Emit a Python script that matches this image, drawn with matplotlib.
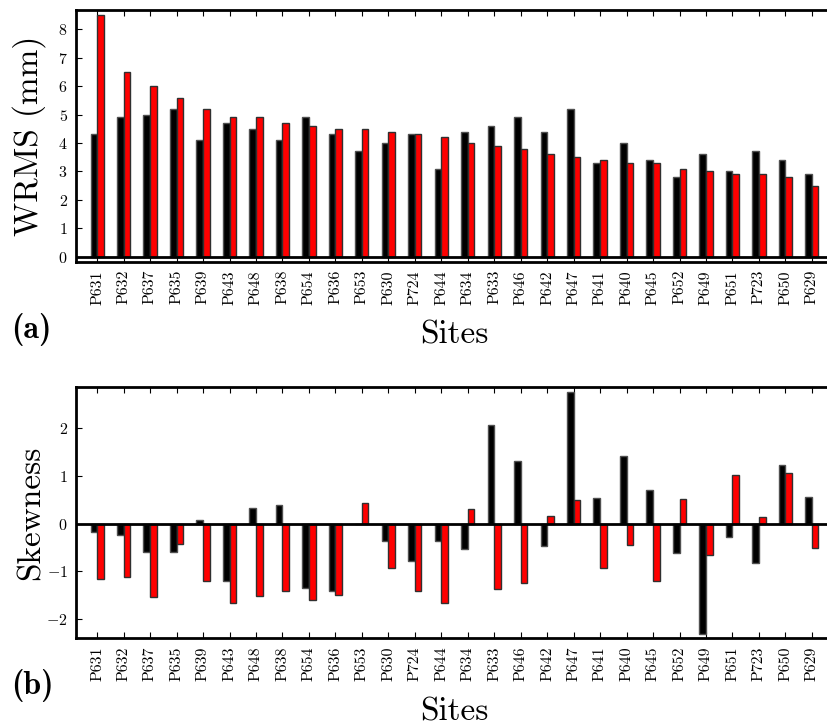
import numpy as np
import matplotlib
matplotlib.use("Agg")
import matplotlib.pyplot as plt


sites = ["P631", "P632", "P637", "P635", "P639", "P643", "P648", "P638",
         "P654", "P636", "P653", "P630", "P724", "P644", "P634", "P633",
         "P646", "P642", "P647", "P641", "P640", "P645", "P652", "P649",
         "P651", "P723", "P650", "P629"]

# WRMS (mm) for the two solutions
wrms_black = [4.3, 4.9, 5.0, 5.2, 4.1, 4.7, 4.5, 4.1, 4.9, 4.3, 3.7, 4.0, 4.3, 3.1,
              4.4, 4.6, 4.9, 4.4, 5.2, 3.3, 4.0, 3.4, 2.8, 3.6, 3.0, 3.7, 3.4, 2.9]
wrms_red = [8.5, 6.5, 6.0, 5.6, 5.2, 4.9, 4.9, 4.7, 4.6, 4.5, 4.5, 4.4, 4.3, 4.2,
            4.0, 3.9, 3.8, 3.6, 3.5, 3.4, 3.3, 3.3, 3.1, 3.0, 2.9, 2.9, 2.8, 2.5]

# Skewness for the two solutions
skew_black = [-0.18, -0.23, -0.59, -0.60, 0.08, -1.20, 0.33, 0.39, -1.34, -1.41,
              0.0, -0.36, -0.79, -0.36, -0.54, 2.06, 1.32, -0.47, 2.76, 0.54,
              1.42, 0.70, -0.61, -2.31, -0.29, -0.83, 1.22, 0.55]
skew_red = [-1.16, -1.11, -1.53, -0.43, -1.21, -1.66, -1.52, -1.41, -1.59, -1.50,
            0.43, -0.92, -1.41, -1.67, 0.31, -1.37, -1.25, 0.16, 0.49, -0.93,
            -0.44, -1.21, 0.52, -0.66, 1.01, 0.13, 1.06, -0.52]

plt.rcParams["font.family"] = "serif"
plt.rcParams["font.serif"] = ["cmr10", "DejaVu Serif"]
plt.rcParams["mathtext.fontset"] = "cm"
plt.rcParams["axes.formatter.use_mathtext"] = True
plt.rcParams["axes.unicode_minus"] = True


def draw_panel(ax, black_vals, red_vals, ylabel, ylim, yticks):
    x = np.arange(len(sites))
    w = 0.25
    ax.bar(x - w, black_vals, w, align="edge", color="black",
           edgecolor="#505050", linewidth=1.0, zorder=2)
    ax.bar(x, red_vals, w, align="edge", color="red",
           edgecolor="#303030", linewidth=1.0, zorder=2)
    ax.axhline(0, color="black", linewidth=2.0, zorder=3)

    ax.set_xlim(-0.8, 27.8)
    ax.set_ylim(*ylim)
    ax.set_yticks(yticks)
    ax.set_xticks(x)
    ax.set_xticklabels(sites, rotation=90, fontsize=11.5)
    ax.tick_params(axis="both", direction="in", length=4, width=0.8,
                   top=True, right=True, labelsize=11.5, pad=6)
    for spine in ax.spines.values():
        spine.set_linewidth(2.0)

    ax.set_ylabel(ylabel, fontsize=24)
    ax.yaxis.set_label_coords(-0.040, 0.5)
    ax.set_xlabel("Sites", fontsize=24)
    ax.xaxis.set_label_coords(0.5, -0.235)


fig = plt.figure(figsize=(8.27, 7.27), dpi=100)
ax1 = fig.add_axes([0.0919, 0.640, 0.9154, 0.3466])
ax2 = fig.add_axes([0.0919, 0.122, 0.9154, 0.346])

draw_panel(ax1, wrms_black, wrms_red, "WRMS (mm)", (-0.18, 8.69), range(0, 9))
draw_panel(ax2, skew_black, skew_red, "Skewness", (-2.40, 2.865), [-2, -1, 0, 1, 2])

fig.text(11 / 827, 1 - 330 / 727, "(a)", fontsize=23, family="cmb10",
         ha="left", va="center")
fig.text(11 / 827, 1 - 686 / 727, "(b)", fontsize=23, family="cmb10",
         ha="left", va="center")

fig.savefig("out.png", dpi=100)
